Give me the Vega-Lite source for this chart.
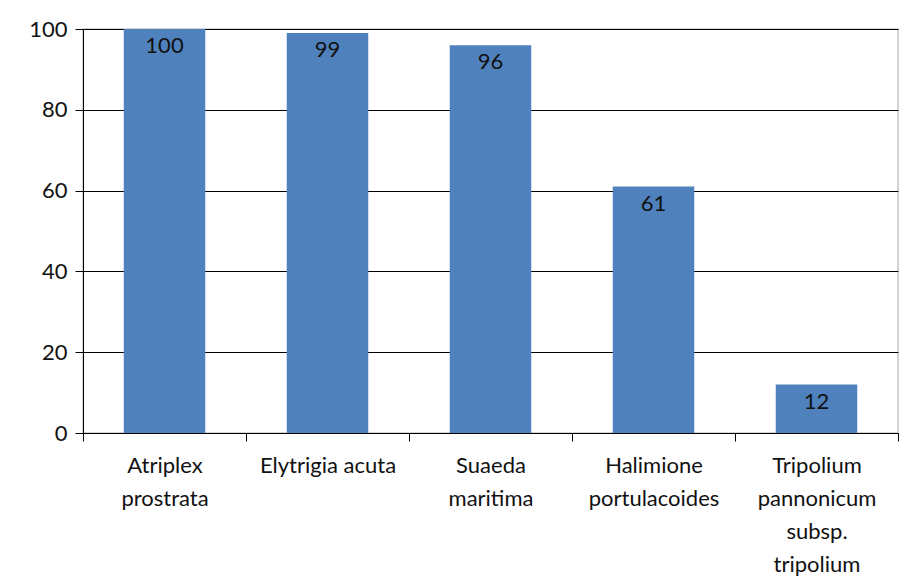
{
  "$schema": "https://vega.github.io/schema/vega-lite/v6.json",
  "autosize": {"type": "none"},
  "width": 815,
  "height": 404,
  "padding": {"left": 83, "top": 29, "right": 18, "bottom": 147},
  "background": "white",
  "config": {
    "font": "Lato",
    "view": {"stroke": "#c8c8c8", "strokeWidth": 1.5},
    "axis": {"labelFont": "Lato", "labelColor": "#111111", "labelFontSize": 22}
  },
  "data": {
    "values": [
      {"species": "Atriplex prostrata", "value": 100},
      {"species": "Elytrigia acuta", "value": 99},
      {"species": "Suaeda maritima", "value": 96},
      {"species": "Halimione portulacoides", "value": 61},
      {"species": "Tripolium pannonicum subsp. tripolium", "value": 12}
    ]
  },
  "encoding": {
    "x": {
      "field": "species",
      "type": "nominal",
      "sort": null,
      "scale": {"paddingInner": 0, "paddingOuter": 0},
      "axis": {
        "title": null,
        "labelAngle": 0,
        "tickBand": "extent",
        "tickSize": 8,
        "tickColor": "#000000",
        "domainColor": "#000000",
        "labelPadding": 14,
        "labelLineHeight": 33,
        "labelBaseline": "top",
        "labelLimit": 0,
        "labelExpr": "datum.value == 'Atriplex prostrata' ? ['Atriplex', 'prostrata'] : datum.value == 'Suaeda maritima' ? ['Suaeda', 'maritima'] : datum.value == 'Halimione portulacoides' ? ['Halimione', 'portulacoides'] : datum.value == 'Tripolium pannonicum subsp. tripolium' ? ['Tripolium', 'pannonicum', 'subsp.', 'tripolium'] : datum.value",
        "grid": false
      }
    },
    "y": {
      "field": "value",
      "type": "quantitative",
      "scale": {"domain": [0, 100], "nice": false},
      "axis": {
        "title": null,
        "values": [0, 20, 40, 60, 80, 100],
        "tickSize": 8,
        "tickColor": "#000000",
        "domainColor": "#000000",
        "gridColor": "#000000",
        "gridOpacity": 1,
        "labelPadding": 8
      }
    }
  },
  "layer": [
    {"mark": {"type": "bar", "color": "#4F81BD", "width": {"band": 0.5}}},
    {
      "mark": {
        "type": "text",
        "baseline": "top",
        "dy": 7,
        "fontSize": 22,
        "color": "#111111",
        "font": "Lato"
      },
      "encoding": {"text": {"field": "value", "type": "quantitative"}}
    }
  ]
}
